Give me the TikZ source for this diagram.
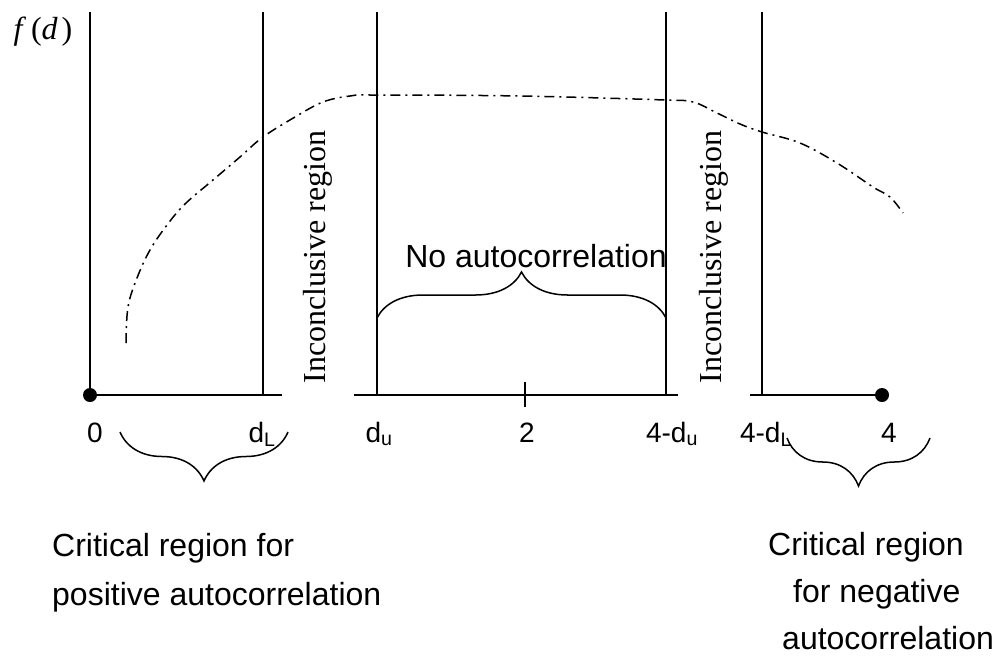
\documentclass[tikz,border=0pt]{standalone}
\usepackage{fontspec}
\setmainfont{Liberation Serif}
\setsansfont{Liberation Sans}
\usetikzlibrary{decorations.pathreplacing}
\usetikzlibrary{positioning}
\tikzset{circ/.style = {fill, circle, inner sep = 0, minimum size = 14}}
\tikzset{bound/.style = {line width = 2}}
\tikzset{lbl/.style = {font = \sffamily\fontsize{28}{30}\selectfont, inner sep = 0, anchor = base}}
\tikzset{note/.style = {font = \sffamily\fontsize{32}{34}\selectfont, inner sep = 0, anchor = base west}}
\tikzset{incl/.style = {rotate = 90, fill = white, inner sep = 0, minimum height = 72, minimum width = 281, font = \fontsize{32}{34}\selectfont}}
\tikzset{curly/.style = {line width = 1.5, decorate, decoration = {brace, amplitude = #1}}}
\tikzset{density/.style = {line width = 1.5, dash pattern = on 10pt off 5pt on 2pt off 5pt}}

\begin{document}
\begin{tikzpicture}[x=1pt, y=-1pt]
      \useasboundingbox (0, 0) rectangle (995, 667);
      \node [font = \fontsize{32}{34}\selectfont, inner sep = 0, anchor = base] (fd) at (43, 39)
        {\textit{f}\hspace{0.15em}(\textit{d}\hspace{0.12em})};
      \node [circ] (z0) at (90, 395) {};
      \node [circ] (z4) at (882, 395) {};
      \draw [bound] (z0.center) -- (z4.center);
      \node [incl] (inc1) at (318, 257) {Inconclusive region};
      \node [incl] (inc2) at (714, 257) {Inconclusive region};
      \foreach \x in {90, 263, 377, 666, 762} {
        \draw [bound] (\x, 12) -- (\x, 395);
      }
      \draw [bound] (525, 382) -- (525, 407);
      % density curve
      \draw [density] plot [smooth, tension = 0.6] coordinates {
        (126, 343) (128, 307) (137, 278) (150, 250) (167, 225) (185, 204)
        (213, 180) (240, 157) (263, 137) (295, 117) (323, 102) (350, 96)
        (377, 95) (520, 96) (665, 100) (693, 102) (717, 113) (740, 124)
        (762, 132) (800, 143) (837, 163) (873, 187) (890, 197) (903, 213)};
      % labels on the axis
      \node [lbl] (l0) at (95, 442) {0};
      \node [lbl] (ldl) at (262, 442) {d\textsubscript{L}};
      \node [lbl] (ldu) at (379, 442) {d\textsubscript{u}};
      \node [lbl] (l2) at (527, 442) {2};
      \node [lbl] (lfdu) at (672, 442) {4-d\textsubscript{u}};
      \node [lbl] (lfdl) at (766, 442) {4-d\textsubscript{L}};
      \node [lbl] (l4) at (889, 442) {4};
      % braces
      \coordinate (bla) at (288, 432);
      \coordinate (blb) at (120, 432);
      \coordinate (bra) at (930, 438);
      \coordinate (brb) at (787, 438);
      \coordinate (bma) at (377, 318);
      \coordinate (bmb) at (666, 318);
      \draw [curly = 49] (bla) -- (blb);
      \draw [curly = 48] (bra) -- (brb);
      \draw [curly = 46] (bma) -- (bmb);
      \node [note, anchor = base] (noac) at (536, 267) {No autocorrelation};
      \node [note] (cl1) at (52, 556) {Critical region for};
      \node [note] (cl2) at (52, 605) {positive autocorrelation};
      \node [note] (cr1) at (768, 555) {Critical region};
      \node [note] (cr2) at (793, 602) {for negative};
      \node [note] (cr3) at (782, 649) {autocorrelation};
\end{tikzpicture}
\end{document}
